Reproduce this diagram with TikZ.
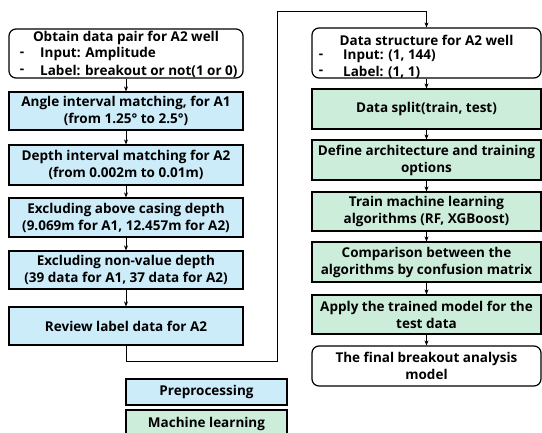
\documentclass[tikz,border=0pt]{standalone}
\usepackage{fontspec}
\setmainfont{Open Sans}
\usetikzlibrary{arrows.meta}
\definecolor{prefill}{RGB}{205,236,249}
\definecolor{mlfill}{RGB}{205,237,219}
\newcommand{\boxfont}{\fontsize{13.5}{17}\selectfont\bfseries}
\tikzset{
  box/.style={draw=black, line width=1.2pt, minimum height=#1, inner sep=0pt, align=center,
    font=\boxfont},
  lbox/.style={box=#1, minimum width=234pt, fill=prefill},
  rbox/.style={box=#1, minimum width=229pt, fill=mlfill},
  wbox/.style={box=#1, fill=white, rounded corners=7pt},
  txt/.style={inner sep=0pt, font=\boxfont},
  conn/.style={line width=1pt, -{Stealth[length=5pt,width=4pt]}},
  leg/.style={box=#1, minimum width=161pt}
}
\begin{document}
\begin{tikzpicture}[x=1pt,y=1pt]
\useasboundingbox (0,0) rectangle (542,433);
% left column
\node[wbox=49pt, minimum width=234pt] (b1) at (126,379.5) {};
\node[txt] (b1t) at (126,395) {Obtain data pair for A2 well};
\node[txt] (b1d1) at (22,379) {-};
\node[txt, anchor=west] (b1a) at (40,379) {Input: Amplitude};
\node[txt] (b1d2) at (22,362) {-};
\node[txt, anchor=west] (b1b) at (40,362) {Label: breakout or not(1 or 0)};
\node[lbox=38pt] (b2) at (126,322) {Angle interval matching, for A1\\(from 1.25° to 2.5°)};
\node[lbox=40pt] (b3) at (126,268) {Depth interval matching for A2\\(from 0.002m to 0.01m)};
\node[lbox=39pt] (b4) at (126,215.5) {Excluding above casing depth\\(9.069m for A1, 12.457m for A2)};
\node[lbox=38pt] (b5) at (126,163) {Excluding non-value depth\\(39 data for A1, 37 data for A2)};
\node[lbox=38pt] (b6) at (126,107) {Review label data for A2};
% right column
\node[wbox=50pt, minimum width=229pt] (b7) at (426.5,380) {};
\node[txt] (b7t) at (426.5,393) {Data structure for A2 well};
\node[txt] (b7d1) at (321,377) {-};
\node[txt, anchor=west] (b7a) at (343,377) {Input: (1, 144)};
\node[txt] (b7d2) at (321,361) {-};
\node[txt, anchor=west] (b7b) at (343,361) {Label: (1, 1)};
\node[rbox=40pt] (b8) at (426.5,324) {Data split(train, test)};
\node[rbox=40pt] (b9) at (426.5,273) {Define architecture and training\\options};
\node[rbox=39pt] (b10) at (426.5,221.5) {Train machine learning\\algorithms (RF, XGBoost)};
\node[rbox=40pt] (b11) at (426.5,171) {Comparison between the\\algorithms by confusion matrix};
\node[rbox=39pt] (b12) at (426.5,118.5) {Apply the trained model for the\\test data};
\node[wbox=40pt, minimum width=229pt] (b13) at (426.5,67) {The final breakout analysis\\model};
% legend
\node[leg=26pt, fill=prefill] (l1) at (206.5,41) {Preprocessing};
\node[leg=28pt, fill=mlfill] (l2) at (206.5,9) {Machine learning};
% connectors
\draw[conn] (b1) -- (b2);
\draw[conn] (b2) -- (b3);
\draw[conn] (b3) -- (b4);
\draw[conn] (b4) -- (b5);
\draw[conn] (b5) -- (b6);
\coordinate (c1) at (126,71);
\coordinate (c2) at (277,71);
\coordinate (c3) at (277,421);
\coordinate (c4) at (426.5,421);
\draw[conn] (b6.south) -- (c1) -- (c2) -- (c3) -- (c4) -- (b7.north);
\draw[conn] (b7) -- (b8);
\draw[conn] (b8) -- (b9);
\draw[conn] (b9) -- (b10);
\draw[conn] (b10) -- (b11);
\draw[conn] (b11) -- (b12);
\draw[conn] (b12) -- (b13);
\end{tikzpicture}
\end{document}
